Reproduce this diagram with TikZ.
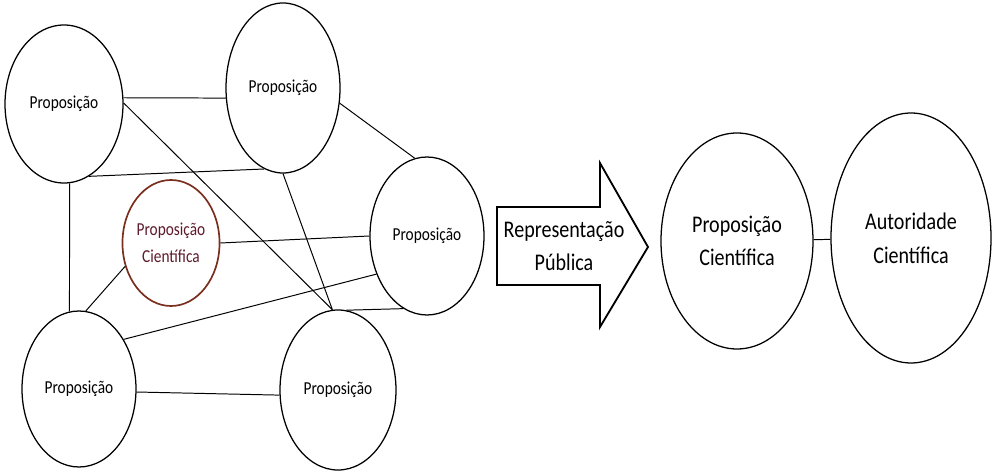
\documentclass[tikz,border=0pt]{standalone}
\usepackage{fontspec}
\setmainfont[FakeStretch=0.84]{Carlito}
\usetikzlibrary{shapes.geometric}
\definecolor{cienciaborda}{HTML}{7A2E1E}
\definecolor{cienciatexto}{HTML}{5E1A2C}
\tikzset{
  prop/.style={ellipse, draw, line width=0.9pt, inner sep=0pt, font=\fontsize{13}{19}\selectfont, align=center},
  propgrande/.style={prop, font=\fontsize{17}{24}\selectfont},
  liga/.style={line width=0.7pt}
}
\begin{document}
\begin{tikzpicture}
\useasboundingbox (0,0) rectangle (24.8,11.75);

% rede de proposicoes
\node[prop, minimum width=2.95cm, minimum height=3.95cm] (p1) at (1.6,9.15) {Proposição};
\node[prop, minimum width=2.85cm, minimum height=4.25cm] (p2) at (7.075,9.55) {Proposição};
\node[prop, minimum width=2.85cm, minimum height=3.95cm] (p3) at (10.675,5.85) {Proposição};
\node[prop, minimum width=2.85cm, minimum height=3.9cm] (p4) at (1.975,2.025) {Proposição};
\node[prop, minimum width=2.9cm, minimum height=4.0cm] (p5) at (8.45,2.0) {Proposição};
\node[prop, draw=cienciaborda, text=cienciatexto, line width=1.2pt,
      minimum width=2.25cm, minimum height=3.15cm] (pc) at (4.275,5.675) {Proposição\\Científica};

\draw[liga] (p1.6) -- (p2.190);
\draw[liga] (p1.1) -- (p5.94);
\draw[liga] (p1.289) -- (p2.257);
\draw[liga] (p2.345) -- (p3.99);
\draw[liga] (p2.270) -- (p5.94);
\draw[liga] (p1.274) -- (p4.97);
\draw[liga] (pc.0) -- (p3.180);
\draw[liga] (pc.207) -- (p4.85);
\draw[liga] (p4.48) -- (p3.217);
\draw[liga] (p3.252) -- (p5.84);
\draw[liga] (p4.357) -- (p5.185);

% seta
\draw[line width=1.3pt] (12.425,6.575) -- (15.0,6.575) -- (15.0,7.675) -- (16.2,5.575)
  -- (15.0,3.575) -- (15.0,4.625) -- (12.425,4.625) -- cycle;
\node[font=\fontsize{17}{24}\selectfont, align=center] (rep) at (14.1,5.6) {Representação\\Pública};

% resultado
\node[propgrande, minimum width=3.8cm, minimum height=5.4cm] (ciencia) at (18.425,5.725) {Proposição\\Científica};
\node[propgrande, minimum width=4.0cm, minimum height=6.25cm] (autoridade) at (22.775,5.8) {Autoridade\\Científica};
\draw[liga] (ciencia) -- (autoridade);
\end{tikzpicture}
\end{document}
